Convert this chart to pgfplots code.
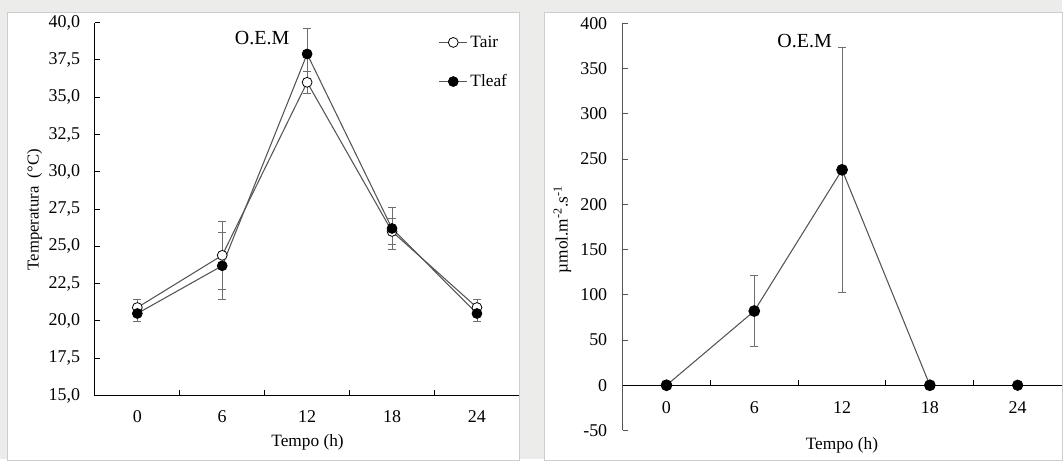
\documentclass[border=0pt]{standalone}
\usepackage{pgfplots}
\pgfplotsset{compat=1.18}
\usepackage{fontspec}
\setmainfont{Liberation Serif}
\definecolor{bgc}{RGB}{236,236,234}
\definecolor{panelc}{RGB}{205,205,205}
\definecolor{linec}{RGB}{85,85,85}
\definecolor{errc}{RGB}{110,110,110}
\begin{document}
\begin{tikzpicture}[x=0.75pt,y=0.75pt]
\fill[bgc] (0,0) rectangle (1063,460);
\filldraw[fill=white, draw=panelc] (7,-1) rectangle (520,448);
\filldraw[fill=white, draw=panelc] (545,-1) rectangle (1064,448);
\begin{axis}[
  at={(71.25pt,48pt)}, anchor=south west, scale only axis,
  width=318.75pt, height=280pt,
  xmin=-3, xmax=27, ymin=15, ymax=40,
  axis lines=left, axis line style={-, black, line width=0.8pt},
  tick align=inside,
  xtick={0,6,12,18,24}, minor xtick={3,9,15,21},
  major x tick style={draw=none},
  ytick={15,17.5,20,22.5,25,27.5,30,32.5,35,37.5,40},
  tick style={black, line width=0.7pt},
  major tick length=4pt, minor tick length=4pt,
  /pgf/number format/assume math mode=true,
  yticklabel style={/pgf/number format/fixed, /pgf/number format/fixed zerofill, /pgf/number format/precision=1, /pgf/number format/use comma, xshift=-7.5pt},
  tick label style={font=\fontsize{13.5}{15}\selectfont},
  xticklabel style={yshift=-8pt},
  clip=false,
  legend style={draw=none, fill=none, at={(0.80,0.98)}, anchor=north west,
    font=\fontsize{13}{15}\selectfont, row sep=15pt, cells={anchor=west}},
  legend image code/.code={\draw[mark repeat=2,mark phase=2,#1] plot coordinates {(0pt,0pt) (10.5pt,0pt) (21pt,0pt)};},
]
\addplot[color=linec, line width=0.8pt, mark=*, mark size=3.7pt,
  mark options={solid, fill=white, draw=black, line width=0.6pt},
  error bars/.cd, y dir=both, y explicit,
  error bar style={errc, line width=0.6pt},
  error mark options={rotate=90, mark size=3pt, errc, line width=0.6pt}]
  table[x=x, y=y, y error=e] {
  x y e
  0 20.9 0.55
  6 24.4 2.3
  12 36.0 0.75
  18 26.0 0.9
  24 20.9 0.55
};
\addlegendentry{Tair}
\addplot[color=linec, line width=0.8pt, mark=*, mark size=3.7pt,
  mark options={solid, fill=black, draw=black, line width=0.6pt},
  error bars/.cd, y dir=both, y explicit,
  error bar style={errc, line width=0.6pt},
  error mark options={rotate=90, mark size=3pt, errc, line width=0.6pt}]
  table[x=x, y=y, y error=e] {
  x y e
  0 20.5 0.5
  6 23.7 2.25
  12 37.9 1.7
  18 26.2 1.4
  24 20.5 0.5
};
\addlegendentry{Tleaf}
\node[font=\fontsize{15}{17}\selectfont] at (axis cs:8.82,38.98) {O.E.M};
\node[font=\fontsize{13}{15}\selectfont] at (rel axis cs:0.501,-0.126) {Tempo (h)};
\node[font=\fontsize{12.5}{15}\selectfont, rotate=90] at (rel axis cs:-0.142,0.498) {Temperatura\ \ (°C)};
\end{axis}
\begin{axis}[
  at={(467.5pt,21.75pt)}, anchor=south west, scale only axis,
  width=329.6pt, height=305.8pt,
  xmin=-3, xmax=27, ymin=-50, ymax=400,
  axis x line=middle, axis y line=left,
  axis line style={-},
  x axis line style={black, line width=0.8pt},
  y axis line style={linec, line width=0.8pt},
  tick align=inside,
  xtick={0,6,12,18,24}, minor xtick={3,9,15,21},
  major x tick style={draw=none},
  minor x tick style={black, line width=0.7pt},
  ytick={-50,0,50,100,150,200,250,300,350,400},
  major y tick style={linec, line width=0.7pt},
  major tick length=4pt, minor tick length=4pt,
  /pgf/number format/assume math mode=true,
  tick label style={font=\fontsize{13.5}{15}\selectfont},
  xticklabel style={yshift=-9pt},
  yticklabel style={xshift=-8pt},
  clip=false,
]
\addplot[color=linec, line width=0.8pt, mark=*, mark size=4pt,
  mark options={solid, fill=black, draw=black},
  error bars/.cd, y dir=both, y explicit,
  error bar style={errc, line width=0.6pt},
  error mark options={rotate=90, mark size=3pt, errc, line width=0.6pt}]
  table[x=x, y=y, y error=e] {
  x y e
  0 0 0
  6 82 39
  12 238 135
  18 0 0
};
\addplot[only marks, mark=*, mark size=4pt, mark options={fill=black, draw=black}]
  table[x=x, y=y] {
  x y
  24 0
};
\node[font=\fontsize{15}{17}\selectfont] at (axis cs:9.44,380.8) {O.E.M};
\node[font=\fontsize{13}{15}\selectfont] at (rel axis cs:0.4997,-0.0368) {Tempo (h)};
\node[font=\fontsize{13}{15}\selectfont, rotate=90] at (rel axis cs:-0.137,0.493) {µmol.m\textsuperscript{-2}.s\textsuperscript{-1}};
\end{axis}
\end{tikzpicture}
\end{document}
